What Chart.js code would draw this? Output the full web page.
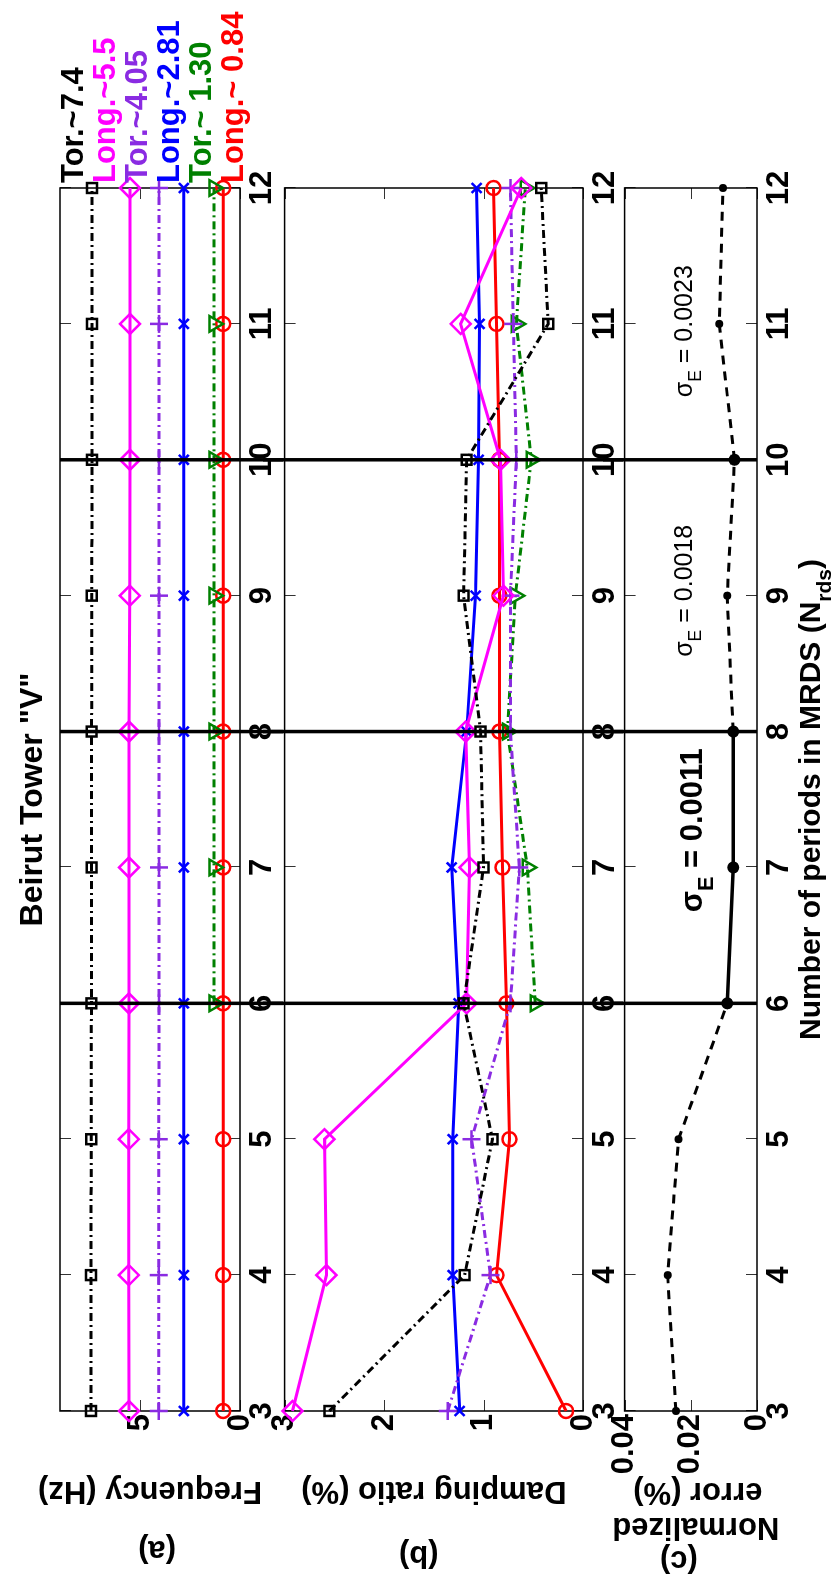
<!DOCTYPE html>
<html lang="en">
<head>
<meta charset="UTF-8">
<title>Beirut Tower "V"</title>
<script src="https://cdn.jsdelivr.net/npm/chart.js@4.4.1/dist/chart.umd.min.js"></script>
<style>
  html, body { margin: 0; padding: 0; background: #fff; overflow: hidden; }
  /* figure is laid out landscape, then turned a quarter turn counter-clockwise */
  #figure { position: absolute; left: 0; top: 0; width: 1585px; height: 833px;
            transform-origin: 0 0; transform: translate(0, 1585px) rotate(-90deg); }
  #figure canvas { position: absolute; left: 0; }
</style>
</head>
<body>
<div id="figure">
  <canvas id="freqChart" width="1585" height="283" style="top:0"></canvas>
  <canvas id="dampChart" width="1585" height="360" style="top:263px"></canvas>
  <canvas id="errChart" width="1585" height="230" style="top:603px"></canvas>
</div>
<script>
// ---- data ----
const periods = [3, 4, 5, 6, 7, 8, 9, 10, 11, 12];
const modeNames = ['Tor.~7.4', 'Long.~5.5', 'Tor.~4.05', 'Long.~2.81', 'Tor.~ 1.30', 'Long.~ 0.84'];

// (a) frequency (Hz)
const freqTor74 = [7.45, 7.45, 7.44, 7.43, 7.42, 7.42, 7.41, 7.40, 7.40, 7.40];
const freqLong55 = [5.55, 5.56, 5.56, 5.55, 5.55, 5.55, 5.51, 5.50, 5.50, 5.50];
const freqTor405 = [4.06, 4.06, 4.06, 4.05, 4.05, 4.05, 4.05, 4.05, 4.05, 4.05];
const freqLong281 = [2.81, 2.81, 2.81, 2.81, 2.81, 2.81, 2.81, 2.81, 2.81, 2.81];
const freqTor130 = [null, null, null, 1.30, 1.30, 1.30, 1.30, 1.30, 1.30, 1.30];
const freqLong084 = [0.84, 0.84, 0.84, 0.84, 0.84, 0.84, 0.84, 0.84, 0.84, 0.84];

// (b) damping ratio (%)
const dampTor74 = [2.55, 1.19, 0.91, 1.20, 1.00, 1.03, 1.20, 1.17, 0.35, 0.42];
const dampLong55 = [2.92, 2.58, 2.60, 1.17, 1.14, 1.18, 0.80, 0.83, 1.23, 0.62];
const dampTor405 = [1.36, 0.93, 1.12, 0.73, 0.64, 0.73, 0.73, 0.67, 0.70, 0.73];
const dampLong281 = [1.24, 1.31, 1.31, 1.25, 1.32, 1.17, 1.08, 1.05, 1.04, 1.07];
const dampTor130 = [null, null, null, 0.48, 0.56, 0.76, 0.68, 0.52, 0.67, 0.58];
const dampLong084 = [0.17, 0.87, 0.74, 0.77, 0.81, 0.84, 0.84, 0.84, 0.87, 0.90];

// (c) normalized error (%)
const normError = [0.0245, 0.0270, 0.0237, 0.0090, 0.0072, 0.0072, 0.0090, 0.0068, 0.0114, 0.0103];
const sigmaValues = ['0.0011', '0.0018', '0.0023'];
const boundaryPeriods = [6, 8, 10];

// ---- styles ----
const FONT = "'Liberation Sans', Arial, Helvetica, sans-serif";
const DASHDOT = [8, 4, 2, 4];
const modeStyles = [
  { color: '#000000', marker: 'rect', radius: 7, dash: DASHDOT },
  { color: '#ff00ff', marker: 'rectRot', radius: 10, dash: [] },
  { color: '#8a2be2', marker: 'cross', radius: 9, dash: DASHDOT },
  { color: '#0000ff', marker: 'crossRot', radius: 7, dash: [] },
  { color: '#008000', marker: 'triangle', radius: 9, rotation: 180, dash: DASHDOT },
  { color: '#ff0000', marker: 'circle', radius: 7, dash: [] }
];

function toPoints(values) {
  return periods.map((p, i) => ({ x: p, y: values[i] })).filter(d => d.y !== null);
}

function modeDataset(values, i) {
  const s = modeStyles[i];
  return {
    label: modeNames[i],
    data: toPoints(values),
    borderColor: s.color,
    borderWidth: 3,
    borderDash: s.dash,
    pointStyle: s.marker,
    pointRadius: s.radius,
    pointRotation: s.rotation || 0,
    pointBorderColor: s.color,
    pointBackgroundColor: 'rgba(0,0,0,0)',
    pointBorderWidth: 2.5,
    tension: 0,
    clip: false
  };
}

function rotatedText(ctx, text, x, y, font, baseline) {
  ctx.save();
  ctx.translate(x, y);
  ctx.rotate(-Math.PI / 2);
  ctx.font = font;
  ctx.fillStyle = '#000';
  ctx.textAlign = 'center';
  ctx.textBaseline = baseline || 'alphabetic';
  ctx.fillText(text, 0, 0);
  ctx.restore();
}

// draws text runs with optional subscripts; align 'left' or 'center'
function subText(ctx, parts, x, y, size, weight, align) {
  const font = s => `${weight} ${s}px ${FONT}`;
  const widths = parts.map(p => { ctx.font = font(p.sub ? size * 0.7 : size); return ctx.measureText(p.t).width; });
  const total = widths.reduce((a, b) => a + b, 0);
  let cx = align === 'center' ? x - total / 2 : x;
  ctx.save();
  ctx.fillStyle = '#000';
  ctx.textAlign = 'left';
  ctx.textBaseline = 'alphabetic';
  parts.forEach((p, i) => {
    ctx.font = font(p.sub ? size * 0.7 : size);
    ctx.fillText(p.t, cx, p.sub ? y + size * 0.35 : y);
    cx += widths[i];
  });
  ctx.restore();
}

// frame and inward tick marks, MATLAB style
const axesBox = {
  id: 'axesBox',
  beforeDatasetsDraw(chart) {
    const { ctx, chartArea: a, scales: { x, y } } = chart;
    const len = 11;
    ctx.save();
    ctx.strokeStyle = '#333';
    ctx.lineWidth = 1;
    ctx.beginPath();
    x.ticks.forEach(t => {
      const px = Math.round(x.getPixelForValue(t.value)) + 0.5;
      ctx.moveTo(px, a.bottom); ctx.lineTo(px, a.bottom - len);
      ctx.moveTo(px, a.top); ctx.lineTo(px, a.top + len);
    });
    y.ticks.forEach(t => {
      const py = Math.round(y.getPixelForValue(t.value)) + 0.5;
      ctx.moveTo(a.left, py); ctx.lineTo(a.left + len, py);
      ctx.moveTo(a.right, py); ctx.lineTo(a.right - len, py);
    });
    ctx.stroke();
    ctx.strokeStyle = '#000';
    ctx.lineWidth = 1.5;
    ctx.strokeRect(a.left, a.top, a.right - a.left, a.bottom - a.top);
    ctx.restore();
  }
};

// thick vertical separators at the MRDS boundaries
function boundaryPlugin(fromY, toY) {
  return {
    id: 'boundaries',
    afterDatasetsDraw(chart) {
      const { ctx, chartArea: a, scales: { x } } = chart;
      const y0 = fromY(chart, a), y1 = toY(chart, a);
      ctx.save();
      ctx.strokeStyle = '#000';
      ctx.lineWidth = 3.5;
      ctx.beginPath();
      boundaryPeriods.forEach(p => {
        const px = x.getPixelForValue(p);
        ctx.moveTo(px, y0); ctx.lineTo(px, y1);
      });
      ctx.stroke();
      ctx.restore();
    }
  };
}

function scaleOptions(yMin, yMax, yStep, xHeight, yFmt) {
  const tickFont = { family: FONT, size: 31, weight: 'bold' };
  return {
    x: {
      type: 'linear', min: 3, max: 12,
      grid: { display: false, drawTicks: false }, border: { display: false },
      ticks: { stepSize: 1, padding: 4, color: '#000', font: tickFont, maxRotation: 0, autoSkip: false, includeBounds: false },
      afterFit: s => { s.height = xHeight; }
    },
    y: {
      min: yMin, max: yMax,
      grid: { display: false, drawTicks: false }, border: { display: false },
      ticks: { stepSize: yStep, padding: 3, color: '#000', font: tickFont, includeBounds: false, callback: yFmt },
      afterFit: s => { s.width = 174; }
    }
  };
}

function baseOptions(padTop, yMin, yMax, yStep, xHeight, yFmt) {
  return {
    responsive: false,
    animation: false,
    devicePixelRatio: 1,
    layout: { padding: { top: padTop, right: 188, bottom: 0, left: 0 } },
    plugins: { legend: { display: false }, tooltip: { enabled: false } },
    scales: scaleOptions(yMin, yMax, yStep, xHeight, yFmt)
  };
}

// ---- (a) frequency ----
new Chart(document.getElementById('freqChart'), {
  type: 'line',
  data: {
    datasets: [freqTor74, freqLong55, freqTor405, freqLong281, freqTor130, freqLong084].map(modeDataset)
  },
  options: baseOptions(60, 0, 9, 5, 43, v => v),
  plugins: [axesBox, boundaryPlugin((c, a) => a.top, c => c.height), {
    id: 'labelsA',
    afterDraw(chart) {
      const { ctx, chartArea: a, scales: { x } } = chart;
      const mid = (a.top + a.bottom) / 2;
      ctx.save();
      ctx.fillStyle = '#000';
      ctx.font = `bold 32px ${FONT}`;
      ctx.textAlign = 'center';
      ctx.fillText('Beirut Tower "V"', (a.left + a.right) / 2, 42);
      ctx.font = `bold 31px ${FONT}`;
      ctx.textAlign = 'left';
      modeNames.forEach((name, i) => {
        ctx.fillStyle = modeStyles[i].color;
        ctx.fillText(name, x.getPixelForValue(12) + 5, 83 + 32 * i);
      });
      ctx.restore();
      rotatedText(ctx, 'Frequency (Hz)', 103, mid, `bold 31px ${FONT}`);
      rotatedText(ctx, '(a)', 35, mid + 7, `bold 31px ${FONT}`, 'middle');
    }
  }]
});

// ---- (b) damping ratio ----
new Chart(document.getElementById('dampChart'), {
  type: 'line',
  data: {
    datasets: [dampTor74, dampLong55, dampTor405, dampLong281, dampTor130, dampLong084].map(modeDataset)
  },
  options: baseOptions(20, 0, 3, 1, 40, v => v),
  plugins: [axesBox, boundaryPlugin(() => 0, c => c.height), {
    id: 'labelsB',
    afterDraw(chart) {
      const { ctx, chartArea: a } = chart;
      const mid = (a.top + a.bottom) / 2;
      rotatedText(ctx, 'Damping ratio (%)', 103, mid, `bold 31px ${FONT}`);
      rotatedText(ctx, '(b)', 30, mid - 15, `bold 31px ${FONT}`, 'middle');
    }
  }]
});

// ---- (c) normalized error ----
const bigDot = p => p === 6 || p === 7 || p === 8 || p === 10;
const solidPart = c => c.p0.parsed.x >= 6 && c.p1.parsed.x <= 8;

new Chart(document.getElementById('errChart'), {
  type: 'line',
  data: {
    datasets: [{
      label: 'Normalized error',
      data: toPoints(normError),
      borderColor: '#000',
      borderWidth: 3,
      borderDash: [9, 7],
      segment: {
        borderDash: c => solidPart(c) ? [] : [9, 7],
        borderWidth: c => solidPart(c) ? 3.5 : 3
      },
      pointRadius: periods.map(p => bigDot(p) ? 6 : 4),
      pointBackgroundColor: '#000',
      pointBorderColor: '#000',
      pointBorderWidth: 0,
      tension: 0,
      clip: false
    }]
  },
  options: baseOptions(20, 0, 0.04, 0.02, 76, v => v === 0 ? '0' : v.toFixed(2)),
  plugins: [axesBox, boundaryPlugin(() => 0, (c, a) => a.bottom), {
    id: 'labelsC',
    afterDraw(chart) {
      const { ctx, chartArea: a, scales: { x } } = chart;
      const mid = (a.top + a.bottom) / 2;
      rotatedText(ctx, 'Normalized', 67, mid + 5, `bold 31px ${FONT}`);
      rotatedText(ctx, 'error (%)', 102, mid + 7, `bold 31px ${FONT}`);
      rotatedText(ctx, '(c)', 25, mid - 12, `bold 31px ${FONT}`, 'middle');
      subText(ctx, [{ t: 'σ' }, { t: 'E', sub: true }, { t: ' = ' + sigmaValues[0] }],
        x.getPixelForValue(6.67), 99, 31, 'bold', 'left');
      subText(ctx, [{ t: 'σ' }, { t: 'E', sub: true }, { t: ' = ' + sigmaValues[1] }],
        x.getPixelForValue(8.55), 89, 25, 'normal', 'left');
      subText(ctx, [{ t: 'σ' }, { t: 'E', sub: true }, { t: ' = ' + sigmaValues[2] }],
        x.getPixelForValue(10.46), 89, 25, 'normal', 'left');
      subText(ctx, [{ t: 'Number of periods in MRDS (N' }, { t: 'rds', sub: true }, { t: ')' }],
        (a.left + a.right) / 2, 217, 30, 'bold', 'center');
    }
  }]
});
</script>
</body>
</html>
